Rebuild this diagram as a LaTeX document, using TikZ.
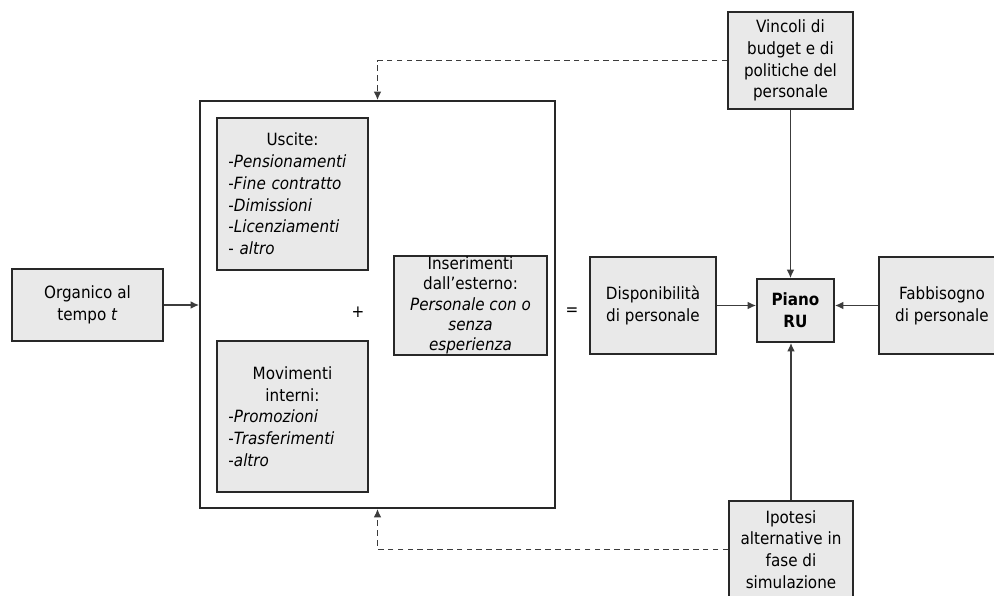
\documentclass[tikz,border=0pt]{standalone}
\usepackage{fontspec}
\setmainfont{DejaVu Sans Condensed}
\usepackage{xcolor}
\usetikzlibrary{arrows.meta}
\definecolor{riquadro}{RGB}{233,233,233}
\definecolor{bordo}{RGB}{40,40,40}
\definecolor{linea}{RGB}{60,60,60}

\begin{document}
\begin{tikzpicture}[x=0.025cm, y=-0.025cm,
    font=\fontsize{12}{15.5}\selectfont,
    blocco/.style={draw=bordo, fill=riquadro, line width=1.2pt, inner sep=2pt, align=center},
    elenco/.style={blocco, align=left, text width=3.2cm, minimum width=3.775cm},
    freccia/.style={-{Latex[length=6pt,width=5.5pt]}, line width=1.1pt, draw=linea},
    tratteggio/.style={freccia, dash pattern=on 4pt off 3pt}]
    \useasboundingbox (0,0) rectangle (994,595);
    \clip (0,0) rectangle (994,595);

    % blocchi
    \node[blocco, minimum width=3.775cm, minimum height=1.8cm] (organico) at (87.5,305) {Organico al\\ tempo \textit{t}};
    \node[draw=bordo, fill=white, line width=1.2pt, minimum width=8.875cm, minimum height=10.175cm] (flussi) at (377.5,304.5) {};
    \node[elenco, minimum height=3.8cm] (uscite) at (292.5,194)
        {{\centering Uscite:\par}-\textit{Pensionamenti}\\ -\textit{Fine contratto}\\ -\textit{Dimissioni}\\ -\textit{Licenziamenti}\\ - \textit{altro}};
    \node[elenco, minimum height=3.775cm] (movimenti) at (292.5,416.5)
        {{\centering Movimenti\\ interni:\par}-\textit{Promozioni}\\ -\textit{Trasferimenti}\\ -\textit{altro}};
    \node[blocco, minimum width=3.825cm, minimum height=2.475cm, inner sep=0pt, font=\fontsize{12}{14.5}\selectfont] (inserimenti) at (470.5,305.5)
        {Inserimenti\\ dall’esterno:\\ \textit{Personale con o}\\ \textit{senza}\\ \textit{esperienza}};
    \node (piu) at (358,312) {\textit{+}};
    \node (uguale) at (572,312) {=};
    \node[blocco, minimum width=3.15cm, minimum height=2.425cm] (disponibilita) at (653,305.5) {Disponibilità\\ di personale};
    \node[blocco, minimum width=1.925cm, minimum height=1.575cm, font=\fontsize{12}{15.5}\selectfont\bfseries] (piano) at (795.5,310.5) {Piano\\ RU};
    \node[blocco, minimum width=3.15cm, minimum height=2.425cm] (fabbisogno) at (942,305.5) {Fabbisogno\\ di personale};
    \node[blocco, minimum width=3.125cm, minimum height=2.425cm] (vincoli) at (790.5,60.5) {Vincoli di\\ budget e di\\ politiche del\\ personale};
    \node[blocco, minimum width=3.1cm, minimum height=2.425cm] (ipotesi) at (791,549.5) {Ipotesi\\ alternative in\\ fase di\\ simulazione};

    % collegamenti
    \draw[freccia] (organico.east) -- (organico.east -| flussi.west);
    \draw[freccia] (disponibilita.east) -- (disponibilita.east -| piano.west);
    \draw[freccia] (fabbisogno.west) -- (fabbisogno.west -| piano.east);
    \draw[freccia] (vincoli.south) -- (vincoli.south |- piano.north);
    \draw[freccia] (ipotesi.north) -- (ipotesi.north |- piano.south);
    \draw[tratteggio] (vincoli.west) -| (flussi.north);
    \draw[tratteggio] (ipotesi.west) -| (flussi.south);
\end{tikzpicture}
\end{document}
